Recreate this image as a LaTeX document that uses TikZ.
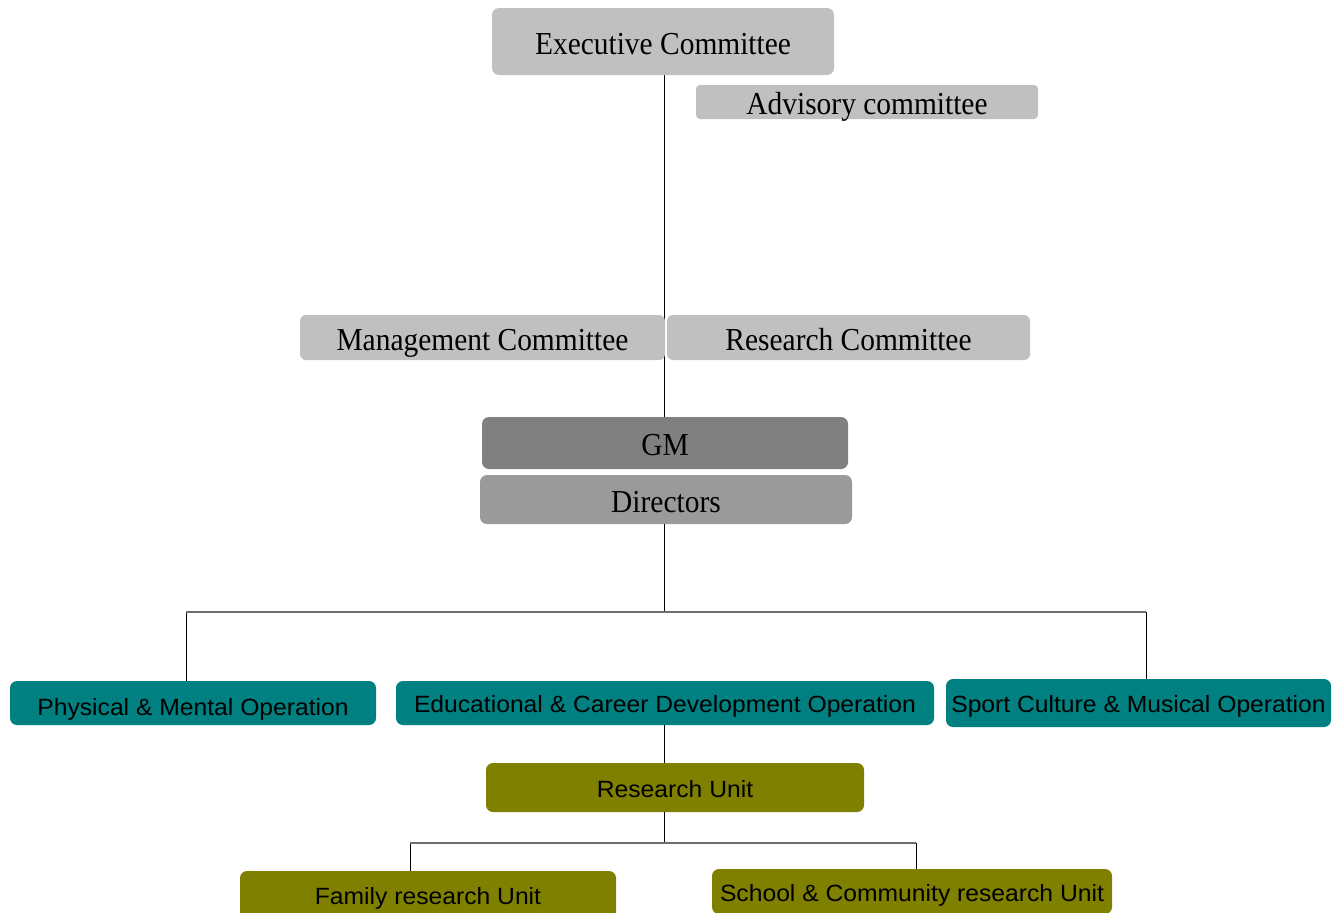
\documentclass[tikz,border=0pt]{standalone}
\usepackage{fontspec}
\newfontfamily\serifc[FakeStretch=0.92]{Liberation Serif}
\newfontfamily\sansc[FakeStretch=1.05]{Liberation Sans}
\definecolor{boxgray}{HTML}{C0C0C0}
\definecolor{gmgray}{HTML}{808080}
\definecolor{dirgray}{HTML}{9A9A9A}
\definecolor{tealc}{HTML}{008080}
\definecolor{olivec}{HTML}{808000}
\definecolor{busgray}{HTML}{6E6E6E}
\tikzset{
  orgbox/.style={rectangle, rounded corners=7pt, inner sep=0pt, align=center, text=black},
  serifbox/.style={orgbox, font=\serifc\fontsize{32}{36}\selectfont, text height=25pt, text depth=0pt},
  sansbox/.style={orgbox, font=\sansc\fontsize{23.5}{28}\selectfont, text height=19.8pt, text depth=0pt},
  vline/.style={draw=black, line width=1pt},
  hline/.style={draw=busgray, line width=1.6pt},
}
\begin{document}
\begin{tikzpicture}[x=1pt,y=-1pt]
\useasboundingbox (0,0) rectangle (1342,913);
\fill[white] (0,0) rectangle (1342,913);

% main vertical trunk (drawn first, boxes over it)
\coordinate (t1) at (664,75);
\coordinate (t2) at (664,417);
\draw[vline] (t1) -- (t2);

\node[serifbox, fill=boxgray, minimum width=342pt, minimum height=67pt] (exec) at (663,41.5) {Executive Committee};
\node[serifbox, fill=boxgray, rounded corners=4pt, minimum width=342pt, minimum height=34pt] (adv) at (867,102) {Advisory committee};
\node[serifbox, fill=boxgray, rounded corners=6pt, minimum width=365pt, minimum height=45pt] (mgmt) at (482.5,337.5) {Management Committee};
\node[serifbox, fill=boxgray, rounded corners=6pt, minimum width=363pt, minimum height=45pt] (rc) at (848.5,337.5) {Research Committee};
\node[serifbox, fill=gmgray, minimum width=366pt, minimum height=52pt] (gm) at (665,443) {GM};
\node[serifbox, fill=dirgray, minimum width=372pt, minimum height=49pt] (dir) at (666,499.5) {Directors};

\node[sansbox, fill=tealc, minimum width=366pt, minimum height=44pt, text height=24.8pt] (phys) at (193,703) {Physical \& Mental Operation};
\node[sansbox, fill=tealc, minimum width=538pt, minimum height=44pt] (edu) at (665,703) {Educational \& Career Development Operation};
\node[sansbox, fill=tealc, minimum width=385pt, minimum height=48pt] (sport) at (1138.5,703) {Sport Culture \& Musical Operation};
\node[sansbox, fill=olivec, minimum width=378pt, minimum height=49pt] (ru) at (675,787.5) {Research Unit};
\node[sansbox, fill=olivec, minimum width=376pt, minimum height=48pt] (fam) at (428,895) {Family research Unit};
\node[sansbox, fill=olivec, minimum width=400pt, minimum height=45pt] (sch) at (912,891.5) {School \& Community research Unit};

% Directors to operations
\coordinate (bc) at (664,612);
\coordinate (bl) at (186,612);
\coordinate (br) at (1146,612);
\draw[vline] (bc |- dir.south) -- (bc);
\draw[vline] (bl) -- (bl |- phys.north);
\draw[vline] (br) -- (br |- sport.north);
\draw[hline] (bl) -- (br);

% Educational to Research Unit
\coordinate (ec) at (664,725);
\draw[vline] (ec |- edu.south) -- (ec |- ru.north);

% Research Unit to sub-units
\coordinate (rc2) at (664,843);
\coordinate (rl) at (410,843);
\coordinate (rr) at (916,843);
\draw[vline] (rc2 |- ru.south) -- (rc2);
\draw[vline] (rl) -- (rl |- fam.north);
\draw[vline] (rr) -- (rr |- sch.north);
\draw[hline] (rl) -- (rr);
\end{tikzpicture}
\end{document}
